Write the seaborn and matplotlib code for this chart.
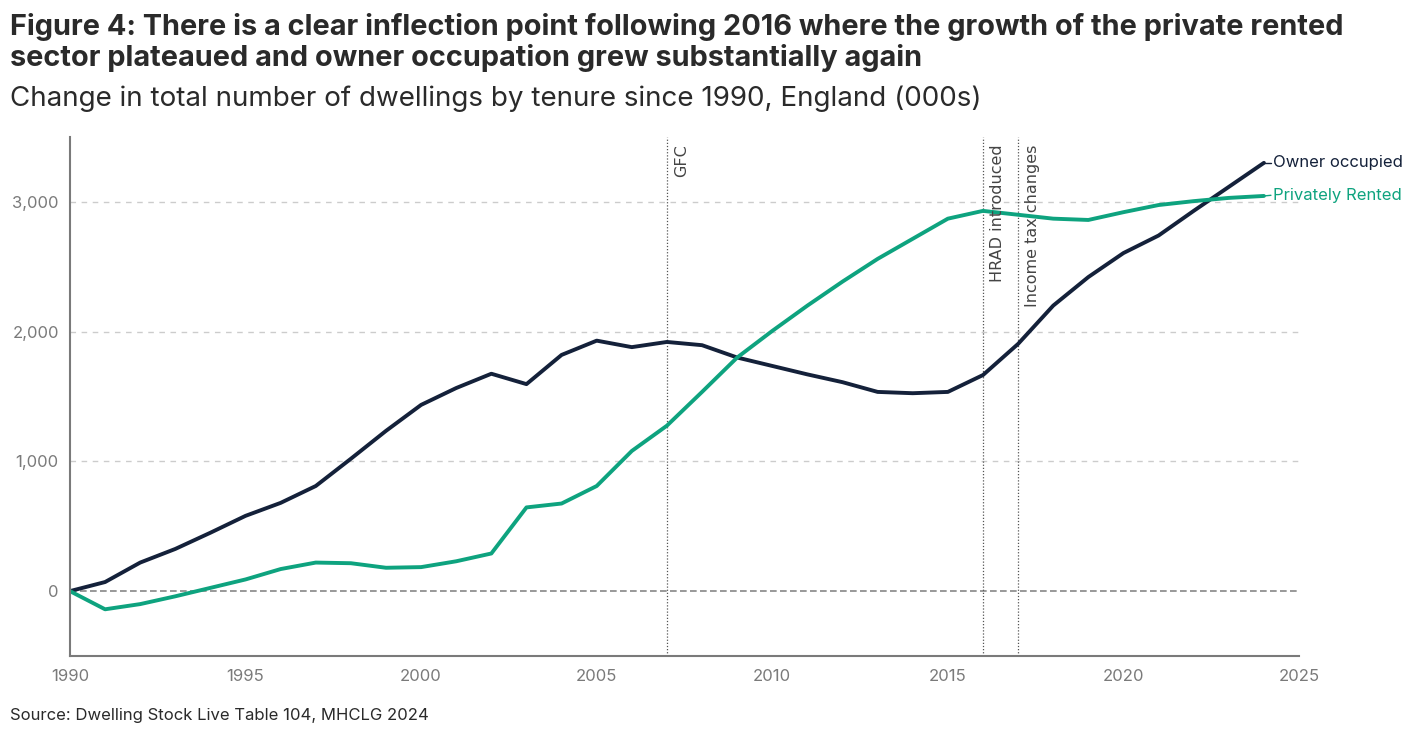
import matplotlib
matplotlib.use("Agg")
import matplotlib.pyplot as plt
import matplotlib.ticker as mticker
import seaborn as sns
import pandas as pd

# ── Data (000s, change since 1990) ──────────────────────────────────────────
years = list(range(1990, 2025))
owner_occupied = [0, 70, 220, 325, 450, 580, 680, 810, 1020, 1235,
                  1435, 1565, 1675, 1595, 1820, 1930, 1880, 1920, 1895, 1800,
                  1735, 1670, 1610, 1535, 1525, 1535, 1665, 1905, 2200, 2420,
                  2605, 2740, 2930, 3115, 3300]
privately_rented = [0, -140, -100, -40, 25, 90, 170, 220, 215, 180,
                    185, 230, 290, 645, 675, 810, 1080, 1275, 1535, 1800,
                    2005, 2200, 2385, 2560, 2715, 2870, 2930, 2900, 2870, 2860,
                    2920, 2975, 3005, 3030, 3045]
events = [(2007, "GFC"), (2016, "HRAD introduced"), (2017, "Income tax changes")]

NAVY = "#14213a"
GREEN = "#0ea37f"
GREY = "#7a7a7a"

sns.set_style("white")
plt.rcParams["font.family"] = ["Inter", "DejaVu Sans"]

df = pd.DataFrame({"year": years, "Owner occupied": owner_occupied,
                   "Privately Rented": privately_rented})
long_df = df.melt(id_vars="year", var_name="tenure", value_name="change")

fig = plt.figure(figsize=(14.16, 7.40), dpi=100)
ax = fig.add_axes([0.0494, 0.1135, 0.868, 0.7015])

sns.lineplot(data=long_df, x="year", y="change", hue="tenure",
             palette={"Owner occupied": NAVY, "Privately Rented": GREEN},
             linewidth=2.8, legend=False, ax=ax)

ax.set_xlim(1990, 2025)
ax.set_ylim(-500, 3500)
ax.set_xticks(range(1990, 2026, 5))
ax.set_yticks([0, 1000, 2000, 3000])
ax.yaxis.set_major_formatter(mticker.StrMethodFormatter("{x:,.0f}"))
ax.set_xlabel("")
ax.set_ylabel("")

for y in [1000, 2000, 3000]:
    ax.axhline(y, color="#cccccc", lw=1, ls=(0, (4, 4)), zorder=0)
ax.axhline(0, color="#888888", lw=1.2, ls=(0, (4, 2)), zorder=0)

for x, label in events:
    ax.axvline(x, color="#555555", lw=0.9, ls=(0, (1, 1.5)), zorder=1)
    ax.text(x + 0.2, 3440, label, rotation=90, ha="left", va="top",
            fontsize=11.5, color="#444444", family=["DejaVu Sans"])

# end labels
for series, color, y_text in [(owner_occupied, NAVY, 3300), (privately_rented, GREEN, 3050)]:
    ax.plot([years[-1], years[-1] + 0.2], [series[-1], y_text], color=color, lw=1)
    ax.text(years[-1] + 0.25, y_text, ("Owner occupied" if color == NAVY else "Privately Rented"),
            color=color, fontsize=12, va="center", ha="left", clip_on=False)

for side in ["top", "right"]:
    ax.spines[side].set_visible(False)
for side in ["left", "bottom"]:
    ax.spines[side].set_color(GREY)
    ax.spines[side].set_linewidth(1.5)
ax.tick_params(axis="both", colors=GREY, labelsize=12)
ax.tick_params(axis="x", length=6, width=1, direction="out")
ax.tick_params(axis="y", length=0, pad=8)

fig.text(0.007, 0.982, "Figure 4: There is a clear inflection point following 2016 where the growth of the private rented\n"
         "sector plateaued and owner occupation grew substantially again",
         fontsize=20.8, fontweight="bold", color="#2a2a2a", va="top", linespacing=1.1)
fig.text(0.007, 0.867, "Change in total number of dwellings by tenure since 1990, England (000s)",
         fontsize=20, color="#2a2a2a", va="center")
fig.text(0.007, 0.033, "Source: Dwelling Stock Live Table 104, MHCLG 2024",
         fontsize=12, color="#2a2a2a", va="center")

fig.savefig("out.png", dpi=100)
